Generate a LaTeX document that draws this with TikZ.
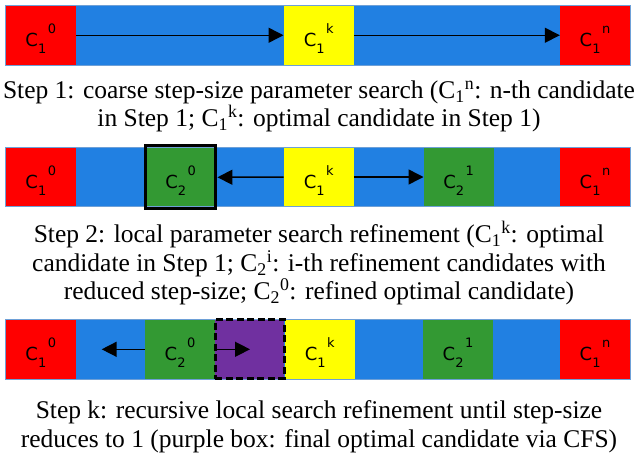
\documentclass[tikz,border=0pt]{standalone}
\usepackage{fontspec}
\setmainfont{Liberation Serif}
\newfontfamily\capfont{Liberation Serif}
\newfontfamily\lab{DejaVu Sans}
\usetikzlibrary{arrows.meta}
\definecolor{barblue}{RGB}{33,128,226}
\definecolor{barline}{RGB}{110,160,215}
\definecolor{cred}{RGB}{255,0,0}
\definecolor{cyel}{RGB}{255,255,0}
\definecolor{cgreen}{RGB}{51,153,51}
\definecolor{cpurple}{RGB}{112,48,160}
\newcommand\clab[2]{C\raisebox{-6.5pt}{\fontsize{13}{13}\selectfont #1}\hspace{1.5pt}\raisebox{13pt}{\fontsize{13}{13}\selectfont #2}}
\newcommand\sbs[2]{C\textsubscript{#1}\textsuperscript{#2}}
\begin{document}
\begin{tikzpicture}[x=1pt,y=-1pt,
 cell/.style={minimum width=70pt, minimum height=59.5pt, inner sep=0pt, text height=23pt, text depth=0pt, font=\lab\fontsize{18}{18}\selectfont},
 bar/.style={fill=barblue, minimum width=625pt, minimum height=59.5pt, inner sep=0pt},
 barframe/.style={draw=barline, line width=0.8pt, minimum width=625pt, minimum height=59.5pt, inner sep=0pt},
 thickbox/.style={draw=black, line width=3pt, minimum width=70.5pt, minimum height=62.7pt, inner sep=0pt},
 dashbox/.style={draw=black, line width=3pt, dash pattern=on 7pt off 3.5pt, minimum width=68.7pt, minimum height=59pt, inner sep=0pt, text height=23pt, text depth=0pt},
 arr/.style={line width=1.5pt, -{Triangle[length=15pt 0 0,width=15pt 0 0]}},
 captext/.style={align=center, font=\capfont\fontsize{25.5}{28.5}\selectfont, inner sep=0pt}]
\useasboundingbox (0,0) rectangle (637,458);
% ---------- Bar 1
\node[bar] (bar1) at (318,35.25) {};
\node[cell, fill=cred] (p10) at (40.75,35.25) {\clab{1}{0}};
\node[cell, fill=cyel] (p1k) at (318.7,35.25) {\clab{1}{k}};
\node[cell, fill=cred] (p1n) at (595,35.25) {\clab{1}{n}};
\node[barframe] (fr1) at (318,35.25) {};
\draw[arr] (p10.east) -- (p1k.west);
\draw[arr] (p1k.east) -- (p1n.west);
\node[captext] (cap1) at (319,106.4) {Step 1: coarse step-size parameter search (\sbs{1}{n}: n-th candidate\\ in Step 1; \sbs{1}{k}: optimal candidate in Step 1)};
% ---------- Bar 2
\node[bar] (bar2) at (318,177) {};
\node[cell, fill=cred] (q10) at (40.75,177) {\clab{1}{0}};
\node[cell, fill=cgreen] (q20) at (180.7,177) {\clab{2}{0}};
\node[cell, fill=cyel] (q1k) at (318.7,177) {\clab{1}{k}};
\node[cell, fill=cgreen] (q21) at (458.7,177) {\clab{2}{1}};
\node[cell, fill=cred] (q1n) at (595,177) {\clab{1}{n}};
\node[barframe] (fr2) at (318,177) {};
\node[thickbox] (hl2) at (180.7,177.3) {};
\draw[arr] (q1k.west) -- (hl2.east);
\draw[arr] (q1k.east) -- (q21.west);
\node[captext] (cap2) at (319,263.5) {Step 2: local parameter search refinement (\sbs{1}{k}: optimal\\ candidate in Step 1; \sbs{2}{i}: i-th refinement candidates with\\ reduced step-size; \sbs{2}{0}: refined optimal candidate)};
% ---------- Bar 3
\node[bar] (bar3) at (318,349.3) {};
\node[cell, fill=cred] (r10) at (40.75,349.3) {\clab{1}{0}};
\node[cell, fill=cgreen] (r20) at (180,349.3) {\clab{2}{0}};
\node[cell, fill=cyel] (r1k) at (319.7,349.3) {\clab{1}{k}};
\node[cell, fill=cgreen] (r21) at (458,349.3) {\clab{2}{1}};
\node[cell, fill=cred] (r1n) at (595,349.3) {\clab{1}{n}};
\node[barframe] (fr3) at (318,349.3) {};
\node[dashbox, fill=cpurple] (fin) at (249.8,349) {};
\coordinate (lt) at (101.7,349.3);
\coordinate (rt) at (250,349.3);
\draw[arr] (r20.west) -- (lt);
\draw[arr] (r20.east) -- (rt);
\node[captext] (cap3) at (319,426.6) {Step k: recursive local search refinement until step-size\\ reduces to 1 (purple box: final optimal candidate via CFS)};
\end{tikzpicture}
\end{document}
